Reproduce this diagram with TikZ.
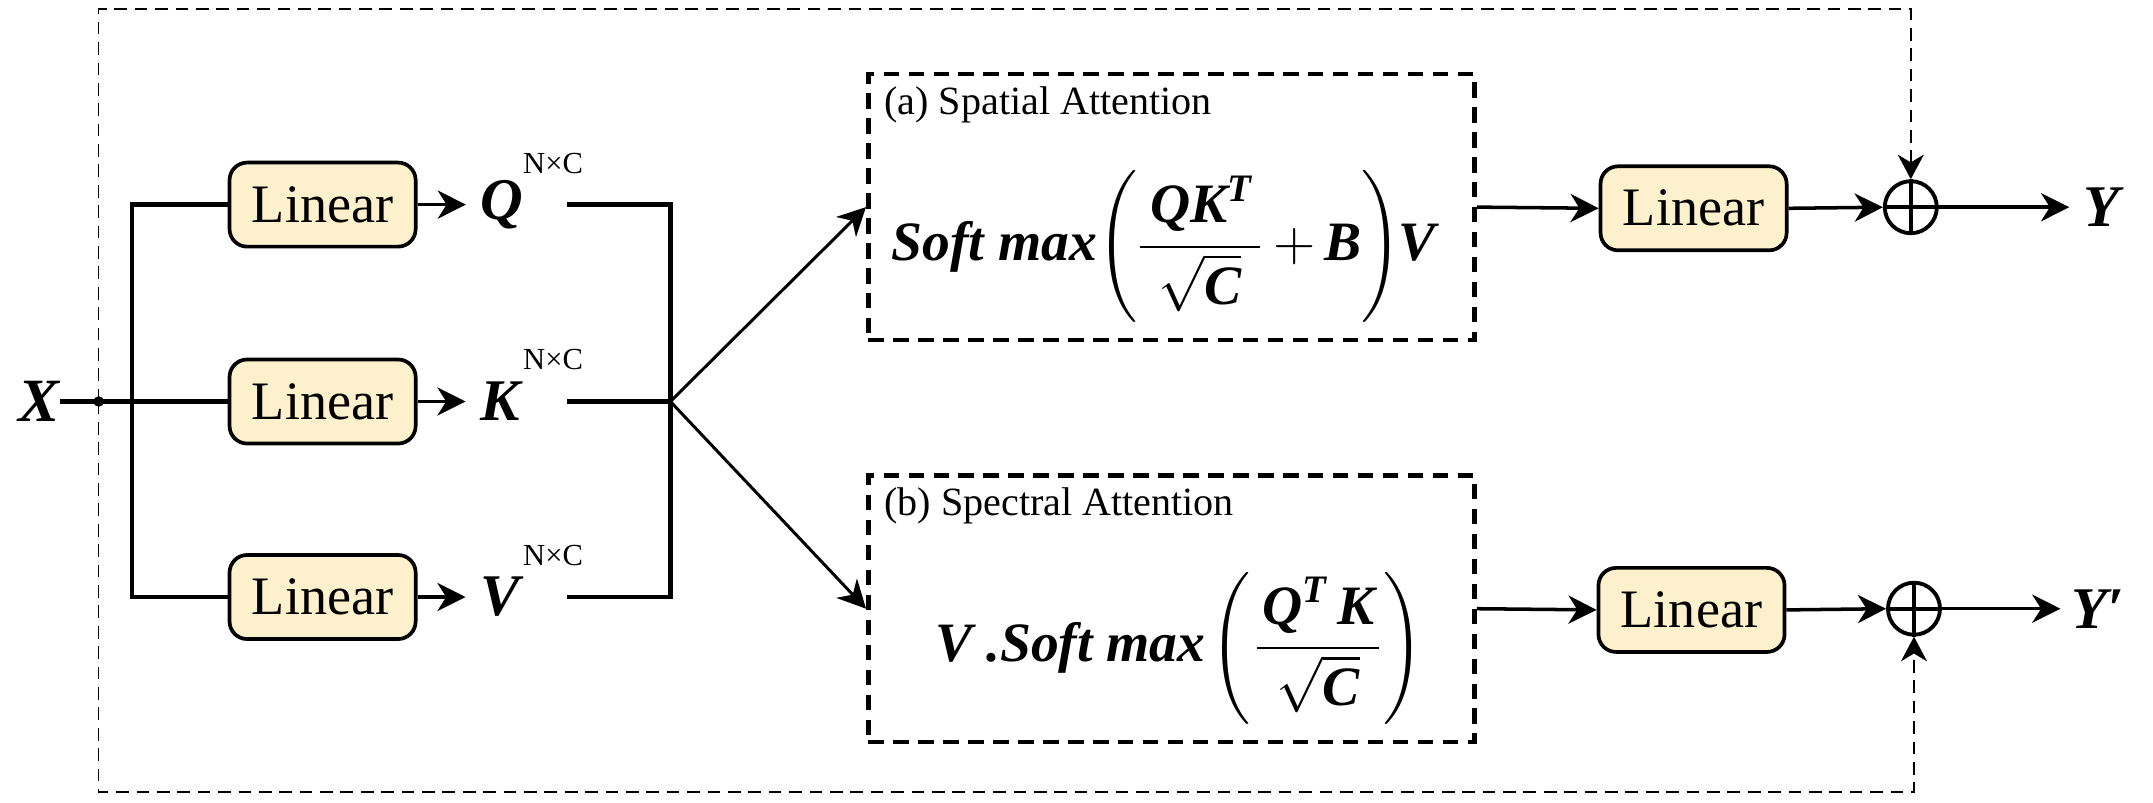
\documentclass[tikz,border=0pt]{standalone}
\usepackage{fix-cm}
\usepackage{amsmath}
\usepackage{fontspec}
\setmainfont{Liberation Serif}
\usetikzlibrary{arrows.meta}
\definecolor{boxfill}{HTML}{FDF0CC}
\newcommand{\bix}[1]{\text{\bfseries\itshape #1}}
\begin{document}
\begin{tikzpicture}[x=0.01cm,y=-0.01cm,
  lin/.style={draw, line width=1.05pt, rounded corners=5pt, fill=boxfill,
    minimum width=1.86cm, minimum height=0.84cm, inner sep=0pt,
    font=\fontsize{15.4}{18}\selectfont},
  var/.style={inner sep=0pt, font=\fontsize{16.8}{19}\selectfont\bfseries\itshape},
  supx/.style={inner sep=0pt, anchor=west, font=\fontsize{8.7}{10}\selectfont},
  wire/.style={line width=1.3pt},
  arr/.style={line width=1pt, -{Stealth[length=8pt,width=8pt,inset=2.5pt]}},
  att/.style={draw, line width=1.3pt, dash pattern=on 4.4pt off 2.7pt,
    minimum width=6.06cm, minimum height=2.66cm, inner sep=0pt},
  ttl/.style={inner sep=0pt, anchor=west, font=\fontsize{11.4}{14}\selectfont},
  outer/.style={line width=0.45pt, dash pattern=on 3.6pt off 2.2pt},
  plus/.style={draw, circle, line width=1.1pt, minimum size=0.52cm, inner sep=0pt},
  fml/.style={inner sep=0pt, anchor=west, font=\fontsize{15.8}{19}\selectfont},
]
\useasboundingbox (0,0) rectangle (2153,802);

% input
\node[var, font=\fontsize{17.5}{20}\selectfont\bfseries\itshape] (X) at (39,401.5) {X};
\node[fill, circle, inner sep=0pt, minimum size=3pt] (dot) at (98.7,401.5) {};
\coordinate (bx) at (131.8,401.5);

% linear boxes
\node[lin] (linQ) at (322.6,204.6) {Linear};
\node[lin] (linK) at (322.6,401.5) {Linear};
\node[lin] (linV) at (322.6,597) {Linear};

% Q K V
\node[var] (Q) at (502,204.6) {Q};
\node[var] (K) at (500,401.5) {K};
\node[var] (V) at (500,597) {V};
\node[supx] (sQ) at (522.5,164) {N×C};
\node[supx] (sK) at (522.5,360) {N×C};
\node[supx] (sV) at (522.5,556) {N×C};

\coordinate (oQ) at (567,204.6);
\coordinate (oK) at (567,401.5);
\coordinate (oV) at (567,597);
\coordinate (jn) at (670.4,401.5);

% attention boxes
\node[att] (sa) at (1171.5,207.1) {};
\node[att] (sb) at (1171.5,608.7) {};
\node[ttl] (ta) at (883.7,105) {(a) Spatial Attention};
\node[ttl] (tb) at (883.7,506) {(b) Spectral Attention};
\node[fml] (fa) at (891,246.5) {$\bix{Soft max}\mathord{\left(\hspace{-0.5pt}\dfrac{\hspace{3pt}\bix{QK}^{\bix{T}}\hspace{2pt}}{\sqrt{\bix{C}}}\mskip3mu{+}\mskip3mu\bix{B}\right)}\hspace{-1pt}\bix{V}$};
\node[fml] (fb) at (934.7,648) {$\bix{V .Soft max}\hspace{1.5pt}\mathord{\left(\hspace{0.5pt}\dfrac{\hspace{1.5pt}\bix{Q}^{\bix{T}}\,\bix{K}\hspace{1.5pt}}{\sqrt{\bix{C}}}\right)}$};

% output side
\node[lin] (linA) at (1693.6,208.3) {Linear};
\node[lin] (linB) at (1691.5,609.9) {Linear};
\node[plus] (pA) at (1910.8,207.2) {};
\node[plus] (pB) at (1914,608.7) {};
\draw[line width=1.1pt] (pA.north) -- (pA.south) (pA.west) -- (pA.east);
\draw[line width=1.1pt] (pB.north) -- (pB.south) (pB.west) -- (pB.east);
\node[var] (Y) at (2102,207.2) {Y};
\node[var] (Y2) at (2098,608.7) {Y′};

% wires
\draw[wire] (X.east) -- (linK.west);
\draw[wire] (linQ.west) -- (linQ.west -| bx) -- (linV.west -| bx) -- (linV.west);
\draw[arr, shorten >=4pt] (linQ.east) -- (Q.west);
\draw[arr, shorten >=4pt] (linK.east) -- (K.west);
\draw[arr, shorten >=4pt] (linV.east) -- (V.west);
\draw[wire] (oQ) -- (oQ -| jn) -- (oV -| jn) -- (oV);
\draw[wire] (oK) -- (jn);
\draw[arr, line width=0.85pt] (jn) -- (sa.west);
\draw[arr, line width=0.85pt] (jn) -- (sb.west);

\draw[arr] (sa.east) -- (linA.west);
\draw[arr] (linA.east) -- (pA.west);
\draw[arr, shorten >=4pt] (pA.east) -- (Y.west);
\draw[arr] (sb.east) -- (linB.west);
\draw[arr] (linB.east) -- (pB.west);
\draw[arr, shorten >=3pt] (pB.east) -- (Y2.west);

% residual dashed
\coordinate (tr) at (1910.8,9.2);
\coordinate (br) at (1914,792);
\draw[outer, -{Stealth[length=7pt,width=7.4pt,inset=2.2pt]}] (dot.center) |- (tr) -- (pA.north);
\draw[outer, -{Stealth[length=7pt,width=7.4pt,inset=2.2pt]}] (dot.center) |- (br) -- (pB.south);
\end{tikzpicture}
\end{document}
